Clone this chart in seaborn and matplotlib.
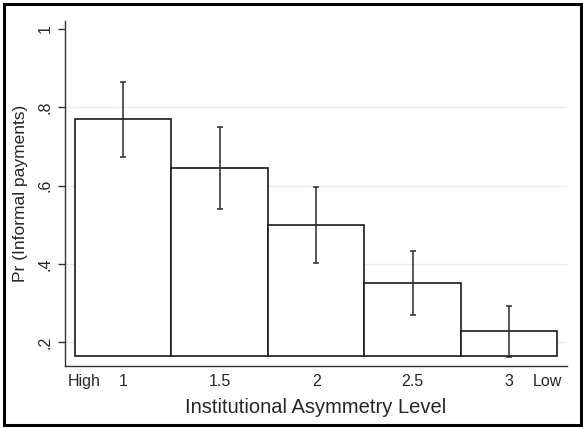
import numpy as np
import pandas as pd
import matplotlib
matplotlib.use("Agg")
import matplotlib.pyplot as plt
from matplotlib.patches import Rectangle
import seaborn as sns

# ---- data ----
levels = [1.0, 1.5, 2.0, 2.5, 3.0]
prob = [0.769, 0.644, 0.498, 0.350, 0.227]
ci_low = [0.674, 0.540, 0.401, 0.269, 0.162]
ci_high = [0.865, 0.750, 0.596, 0.432, 0.292]
bar_base = 0.164
xtick_pos = [0.8, 1.0, 1.5, 2.0, 2.5, 3.0, 3.2]
xtick_labels = ["High", "1", "1.5", "2", "2.5", "3", "Low"]
ytick_pos = [0.2, 0.4, 0.6, 0.8, 1.0]
ytick_labels = [".2", ".4", ".6", ".8", "1"]

sns.set_theme(style="white")
plt.rcParams["font.family"] = ["Liberation Sans", "DejaVu Sans"]

W, H = 583, 428
fig = plt.figure(figsize=(W / 100, H / 100), dpi=100)
fig.patch.set_facecolor("white")

# axes placement in pixel coords
x0, x1 = 65, 567
y_top, y_bot = 20.7, 366
ax = fig.add_axes([x0 / W, (H - y_bot) / H, (x1 - x0) / W, (y_bot - y_top) / H])

df = pd.DataFrame({"level": levels, "prob": prob})
sns.barplot(data=df, x="level", y="prob", native_scale=True, width=1.0,
            errorbar=None, fill=True, color="white", edgecolor="#1a1a1a",
            linewidth=1.2, ax=ax)
# bars start at the base of the plot region (Stata style)
for p, v in zip(ax.patches, prob):
    p.set_y(bar_base)
    p.set_height(v - bar_base)
    p.set_facecolor("white")
    p.set_edgecolor("#1a1a1a")

# confidence intervals
lv = np.array(levels)
pv = np.array(prob)
yerr = np.vstack([pv - np.array(ci_low), np.array(ci_high) - pv])
ax.errorbar(lv, pv, yerr=yerr, fmt="none", ecolor="#2a2a2a", elinewidth=1.1,
            capsize=2.3, capthick=1.1, zorder=5)

ax.set_xlim(0.698, 3.30)
ax.set_ylim(0.1387, 1.0212)

# grid lines
for yv in ytick_pos[:-1]:
    ax.axhline(yv, color="#e6eff0", lw=1.0, zorder=0)

ax.set_yticks(ytick_pos)
ax.set_yticklabels(ytick_labels, rotation=90, va="center", fontsize=11.5)
ax.set_xticks(xtick_pos)
ax.set_xticklabels(xtick_labels, fontsize=11.5)
ax.tick_params(axis="y", length=5, width=1, color="#333333", pad=4, left=True)
ax.tick_params(axis="x", length=0, pad=6)

ax.set_xlabel("Institutional Asymmetry Level", fontsize=14.5, labelpad=6)
ax.set_ylabel("Pr (Informal payments)", fontsize=12.5, labelpad=7)

for s in ["top", "right"]:
    ax.spines[s].set_visible(False)
for s in ["left", "bottom"]:
    ax.spines[s].set_color("#333333")
    ax.spines[s].set_linewidth(1.0)

# outer frame
fig.patches.append(Rectangle((4 / W, 3 / H), 577 / W, 421 / H, transform=fig.transFigure,
                             fill=False, edgecolor="black", linewidth=2.2))

fig.savefig("out.png", dpi=100)
